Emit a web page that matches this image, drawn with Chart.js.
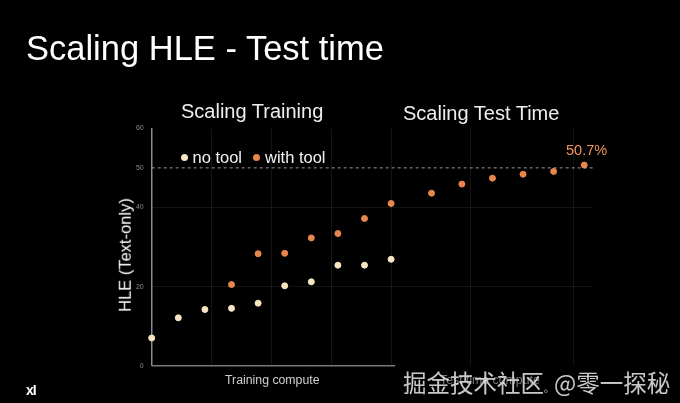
<!DOCTYPE html>
<html>
<head>
<meta charset="utf-8">
<script src="https://cdn.jsdelivr.net/npm/chart.js@4"></script>
<style>
  html, body { margin:0; padding:0; background:#000; }
  #wrap { position:relative; width:680px; height:403px; background:#000; overflow:hidden; font-family:"Liberation Sans", Arial, sans-serif; }
  canvas { position:absolute; left:0; top:0; }
  .t { position:absolute; white-space:nowrap; line-height:1; }
  .dot { position:absolute; width:7px; height:7px; border-radius:50%; }
</style>
</head>
<body>
<div id="wrap">
  <canvas id="c" width="680" height="403"></canvas>
  <div class="t" id="title" style="left:26px; top:31px; font-size:34.5px; color:#fff;">Scaling HLE - Test time</div>
  <div class="t" style="left:181px; top:101px; font-size:20px; color:#eee;">Scaling Training</div>
  <div class="t" style="left:403px; top:103px; font-size:20px; color:#eee;">Scaling Test Time</div>
  <div class="dot" style="left:180.5px; top:153.5px; background:#f7e6c1;"></div>
  <div class="t" style="left:192.5px; top:149px; font-size:16.5px; color:#f2f2f2;">no tool</div>
  <div class="dot" style="left:253px; top:153.5px; background:#e8874c;"></div>
  <div class="t" style="left:265px; top:149px; font-size:16.5px; color:#f2f2f2;">with tool</div>
  <div class="t" style="left:566px; top:143px; font-size:14.5px; color:#ee9459;">50.7%</div>
  <div class="t" style="left:125px; top:255px; font-size:16.5px; color:#fff; transform:translate(-50%,-50%) rotate(-90deg);">HLE (Text-only)</div>
  <div class="t" style="left:225px; top:374px; font-size:12.3px; color:#cfcfcf;">Training compute</div>
  <div class="t" style="left:440px; top:374px; font-size:12.3px; color:#777;">Test time compute</div>
  <div class="t" style="left:403px; top:371px; font-size:23.5px; color:rgba(235,235,235,0.85); font-family:'Noto Sans CJK SC',sans-serif;">掘金技术社区<span style="font-size:10px;">。</span>@零一探秘</div>
  <div class="t" style="left:26px; top:383px; font-size:14px; color:#fff; font-weight:bold; letter-spacing:-1px;">xI</div>
</div>
<script>
// ---- data ----
const trainSteps = [0,1,2,3,4,5,6,7,8,9];
const noTool = [7.0,12.1,14.2,14.5,15.8,20.2,21.2,25.4,25.4,26.9];
const withToolTrainSteps = [3,4,5,6,7,8,9];
const withToolTrain = [20.5,28.3,28.4,32.3,33.4,37.2,41.0];
const testSteps = [10.52,11.66,12.81,13.96,15.11,16.26];
const withToolTest = [43.6,45.9,47.4,48.4,49.1,50.7];
const refLevel = 50;
const yTicks = [0,20,40,50,60];
const xGrid = [2.25,4.5,6.75,9,12,15.85];
const xMax = 16.59;
const trainAxisEnd = 9.15;

const noToolPts = trainSteps.map((x,i)=>({x, y:noTool[i]}));
const withToolPts = withToolTrainSteps.map((x,i)=>({x, y:withToolTrain[i]}))
  .concat(testSteps.map((x,i)=>({x, y:withToolTest[i]})));

new Chart(document.getElementById('c'), {
  type: 'scatter',
  data: {
    datasets: [
      { data:[{x:0,y:refLevel},{x:xMax,y:refLevel}], showLine:true, borderColor:'rgba(190,190,190,0.8)', borderWidth:1, borderDash:[3,3], pointRadius:0, clip:false },
      { data:[{x:0,y:0},{x:trainAxisEnd,y:0}], showLine:true, borderColor:'#7a7a7a', borderWidth:1.5, pointRadius:0, clip:false },
      { label:'no tool', data:noToolPts, backgroundColor:'#f7e6c1', borderColor:'#f7e6c1', pointRadius:3, clip:false },
      { label:'with tool', data:withToolPts, backgroundColor:'#e8874c', borderColor:'#e8874c', pointRadius:3, clip:false }
    ]
  },
  options: {
    responsive:false, animation:false,
    layout:{ padding:{ top:128.3, right:87, left:0, bottom:0 } },
    plugins:{ legend:{display:false}, tooltip:{enabled:false} },
    scales:{
      x:{ type:'linear', min:0, max:xMax,
        afterBuildTicks:(s)=>{ s.ticks = xGrid.map(v=>({value:v})); },
        afterFit:(s)=>{ s.height = 37.3; },
        ticks:{ display:false },
        grid:{ color:'rgba(255,255,255,0.08)', drawTicks:false },
        border:{ display:false } },
      y:{ min:0, max:60,
        afterBuildTicks:(s)=>{ s.ticks = yTicks.map(v=>({value:v})); },
        afterFit:(s)=>{ s.width = 151.7; },
        ticks:{ color:'#8a8a8a', font:{ size:7, family:'Liberation Sans' }, padding:8 },
        grid:{ drawTicks:false, color:(c)=> (c.tick && (c.tick.value===20||c.tick.value===40)) ? 'rgba(255,255,255,0.08)' : 'rgba(0,0,0,0)' },
        border:{ display:true, color:'#8a8a8a', width:1.5 } }
    }
  }
});
</script>
</body>
</html>
